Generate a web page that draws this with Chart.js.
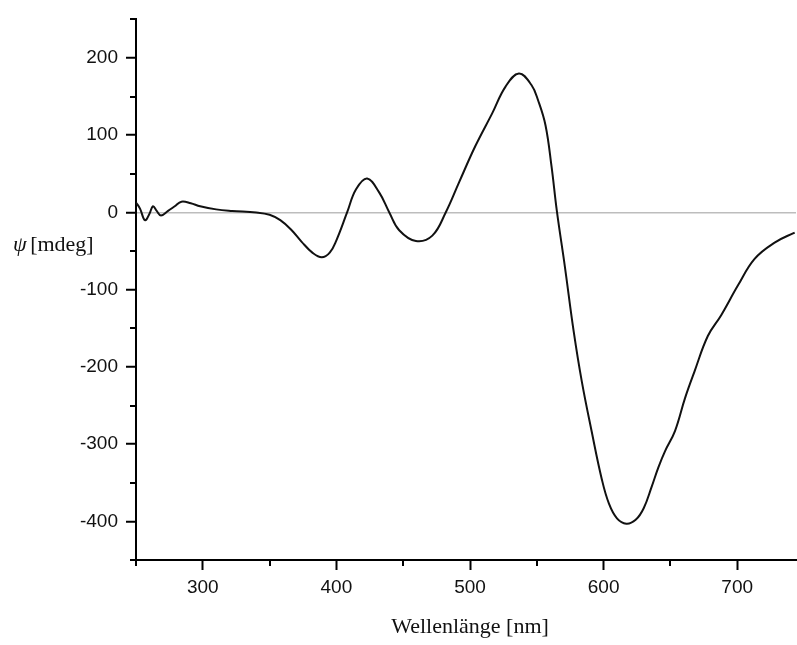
<!DOCTYPE html>
<html>
<head>
<meta charset="utf-8">
<script src="https://cdn.jsdelivr.net/npm/chart.js@4.4.0/dist/chart.umd.min.js"></script>
<style>
  body { margin: 0; background: #fff; }
  #wrap { width: 797px; height: 645px; position: relative; }
</style>
</head>
<body>
<div id="wrap"><canvas id="myChart"></canvas></div>
<script>
// wavelengths (nm) and ellipticity values (mdeg)
const wavelengths = [250, 253, 256.7, 260, 262.7, 265.5, 268.7, 274, 279, 284, 291, 298, 310, 322, 340, 350, 358, 366, 374, 382, 389, 395, 400, 408, 414.7, 423, 432, 439.6, 447, 459.5, 471.8, 481.8, 491.8, 504, 516.5, 526.6, 536.6, 546, 551, 556.5, 561, 565, 571, 577.6, 583.7, 591, 598.6, 604, 610, 617, 624, 630, 636, 641, 646, 653.4, 661, 668, 678, 688, 700.7, 713, 728, 743];
const psiValues = [13, 5, -10, -2, 8, 2, -4, 2, 8, 14, 12, 8, 4, 2, 0, -3, -10, -22, -38, -52, -58, -52, -36, 0, 30, 44, 26, 0, -23, -37, -30, 0, 39, 86, 128, 163, 180, 165, 145, 113, 60, 2, -70, -154, -219, -283, -345, -377, -396, -403, -398, -383, -355, -330, -309, -283, -240, -206, -160, -133, -94, -60, -39, -26];
const xMajorTicks = [300, 400, 500, 600, 700];
const xMinorTicks = [250, 350, 450, 550, 650];
const yMajorTicks = [-400, -300, -200, -100, 0, 100, 200];
const yMinorTicks = [-450, -350, -250, -150, -50, 50, 150, 250];

const points = wavelengths.map((w, i) => ({x: w, y: psiValues[i]}));

// minor ticks and the two axis titles
const extras = {
    id: 'extras',
    afterDraw(chart) {
        const ctx = chart.ctx;
        const xs = chart.scales.x, ys = chart.scales.y;
        const area = chart.chartArea;
        ctx.save();
        ctx.strokeStyle = '#000';
        ctx.lineWidth = 2;
        xMinorTicks.forEach(v => {
            const px = Math.round(xs.getPixelForValue(v));
            ctx.beginPath();
            ctx.moveTo(px, area.bottom);
            ctx.lineTo(px, area.bottom + 6);
            ctx.stroke();
        });
        yMinorTicks.forEach(v => {
            const py = Math.round(ys.getPixelForValue(v));
            ctx.beginPath();
            ctx.moveTo(area.left, py);
            ctx.lineTo(area.left - 6, py);
            ctx.stroke();
        });

        ctx.fillStyle = '#111';
        ctx.textBaseline = 'alphabetic';
        // y title, horizontal
        ctx.textAlign = 'left';
        ctx.font = 'italic 22px "Liberation Serif", serif';
        ctx.fillText('ψ', 13, 251);
        const w = ctx.measureText('ψ').width;
        ctx.font = '22px "Liberation Serif", serif';
        ctx.fillText(' [mdeg]', 13 + w - 2, 251);
        // x title
        ctx.textAlign = 'center';
        ctx.fillText('Wellenlänge [nm]', 470, 633);
        ctx.restore();
    }
};

const canvas = document.getElementById('myChart');
const myChart = new Chart(canvas, {
    type: 'line',
    data: {
        datasets: [{
            data: points,
            borderColor: '#111',
            borderWidth: 2,
            pointRadius: 0,
            tension: 0.4,
            fill: false
        }]
    },
    options: {
        responsive: true,
        maintainAspectRatio: false,
        animation: false,
        layout: { padding: { top: 15, left: 0, right: 0, bottom: 0 } },
        plugins: {
            legend: { display: false },
            tooltip: { enabled: false }
        },
        scales: {
            x: {
                type: 'linear',
                min: 250,
                max: 744,
                afterFit: s => { s.height = 85; },
                afterBuildTicks: s => { s.ticks = xMajorTicks.map(v => ({value: v})); },
                grid: {
                    drawOnChartArea: false,
                    tickLength: 10,
                    tickWidth: 2,
                    tickColor: '#000'
                },
                border: { color: '#000', width: 2 },
                ticks: {
                    color: '#111',
                    padding: 6,
                    maxRotation: 0,
                    font: { family: '"Liberation Sans", Arial, sans-serif', size: 19 }
                }
            },
            y: {
                type: 'linear',
                min: -450,
                max: 250,
                afterFit: s => { s.width = 136; },
                afterBuildTicks: s => { s.ticks = yMajorTicks.map(v => ({value: v})); },
                grid: {
                    drawOnChartArea: true,
                    color: c => (c.tick && c.tick.value === 0) ? '#bdbdbd' : 'rgba(0,0,0,0)',
                    lineWidth: 1.5,
                    tickLength: 10,
                    tickWidth: 2,
                    tickColor: '#000'
                },
                border: { color: '#000', width: 2 },
                ticks: {
                    color: '#111',
                    padding: 8,
                    font: { family: '"Liberation Sans", Arial, sans-serif', size: 19 }
                }
            }
        }
    },
    plugins: [extras]
});
myChart.update();
</script>
</body>
</html>
